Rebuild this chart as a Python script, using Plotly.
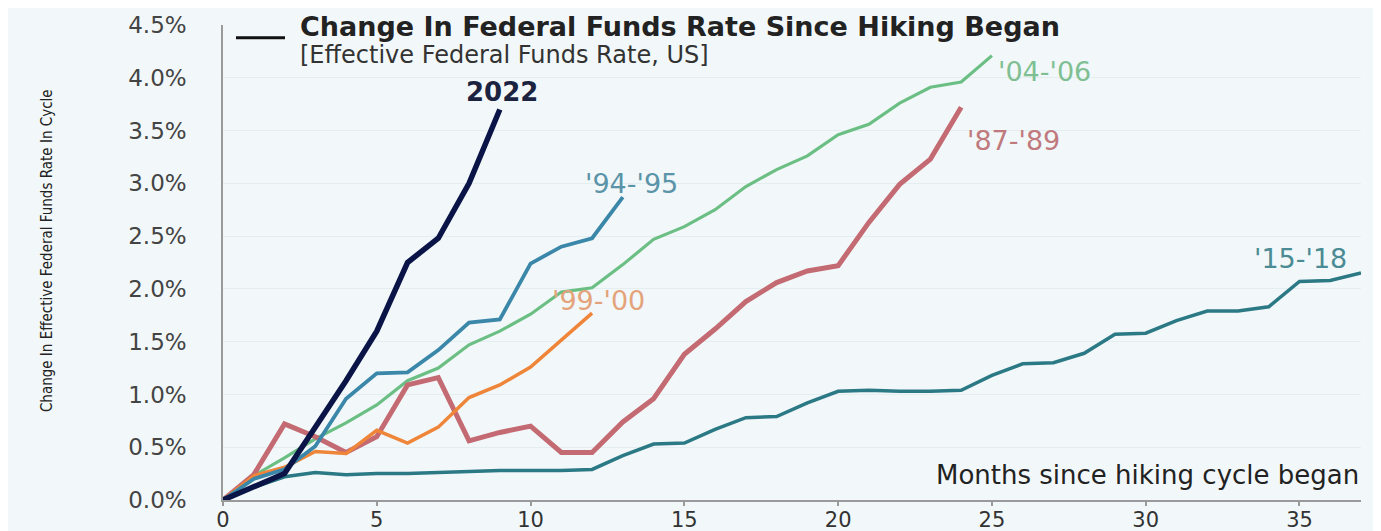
import plotly.graph_objects as go

# ---- data (change in effective fed funds rate, percentage points, by month of cycle) ----
c2022 = [0, 0.12, 0.25, 0.69, 1.13, 1.60, 2.25, 2.48, 3.00, 3.70]
c9495 = [0, 0.20, 0.29, 0.51, 0.96, 1.20, 1.21, 1.42, 1.68, 1.71, 2.24, 2.40, 2.48, 2.87]
c9900 = [0, 0.23, 0.31, 0.46, 0.44, 0.66, 0.54, 0.69, 0.97, 1.09, 1.26, 1.51, 1.77]
c0406 = [0, 0.23, 0.40, 0.58, 0.73, 0.90, 1.13, 1.25, 1.47, 1.60, 1.76, 1.97, 2.01,
         2.23, 2.47, 2.59, 2.75, 2.97, 3.13, 3.26, 3.46, 3.56, 3.76, 3.91, 3.96, 4.21]
c8789 = [0, 0.24, 0.72, 0.60, 0.45, 0.60, 1.09, 1.16, 0.56, 0.64, 0.70, 0.45, 0.45,
         0.74, 0.96, 1.38, 1.62, 1.88, 2.06, 2.17, 2.22, 2.63, 2.99, 3.23, 3.72]
c1518 = [0, 0.12, 0.22, 0.26, 0.24, 0.25, 0.25, 0.26, 0.27, 0.28, 0.28, 0.28, 0.29,
         0.42, 0.53, 0.54, 0.67, 0.78, 0.79, 0.92, 1.03, 1.04, 1.03, 1.03, 1.04, 1.18,
         1.29, 1.30, 1.39, 1.57, 1.58, 1.70, 1.79, 1.79, 1.83, 2.07, 2.08, 2.15]

series_names = ["'15-'18", "'04-'06", "'87-'89", "'99-'00", "'94-'95", "2022"]
series_values = [c1518, c0406, c8789, c9900, c9495, c2022]
line_colors = ["#2c7986", "#6cbf84", "#c46a72", "#ef8539", "#3a87a9", "#0b1446"]
label_colors = ["#4b8b95", "#7fbf93", "#c07a7e", "#e4a37a", "#5b94a8", "#1c2340"]
line_widths = [3.5, 3.2, 5, 3.5, 3.8, 5.5]
# label offsets relative to each series' last point (xanchor, xshift, yshift)
label_pos = [("right", -12, 15), ("left", 4, -16), ("left", 4, -33),
             ("center", 6, 13), ("center", 9, 14), ("center", 2, 17)]

y_ticks = [0, 0.5, 1.0, 1.5, 2.0, 2.5, 3.0, 3.5, 4.0, 4.5]
y_ticklabels = ["0.0%", "0.5%", "1.0%", "1.5%", "2.0%", "2.5%", "3.0%", "3.5%", "4.0%", "4.5%"]
x_ticks = [0, 5, 10, 15, 20, 25, 30, 35]

BG = "#f2f8f9"
FONT = "DejaVu Sans"

fig = go.Figure()
annotations = []
for name, vals, lc, tc, lw, (xa, xs, ys) in zip(series_names, series_values, line_colors,
                                                  label_colors, line_widths, label_pos):
    months = list(range(len(vals)))
    fig.add_trace(go.Scatter(x=months, y=vals, mode="lines", name=name,
                             line=dict(color=lc, width=lw), showlegend=False))
    is_bold = name == "2022"
    annotations.append(dict(
        x=months[-1], y=vals[-1], xref="x", yref="y", text=name, showarrow=False,
        xanchor=xa, yanchor="middle", xshift=xs, yshift=ys,
        font=dict(family=FONT, size=26 if is_bold else 27, color=tc,
                  weight="bold" if is_bold else "normal")))

annotations += [
    dict(x=0.066, y=0.997, xref="paper", yref="paper", xanchor="left", yanchor="middle",
         text="Change In Federal Funds Rate Since Hiking Began", showarrow=False,
         font=dict(family=FONT, size=27, color="#222222", weight="bold")),
    dict(x=0.066, y=0.936, xref="paper", yref="paper", xanchor="left", yanchor="middle",
         text="[Effective Federal Funds Rate, US]", showarrow=False,
         font=dict(family=FONT, size=24, color="#333333")),
    dict(x=1.0, y=0.052, xref="paper", yref="paper", xanchor="right", yanchor="middle",
         text="Months since hiking cycle began", showarrow=False,
         font=dict(family=FONT, size=26, color="#222222")),
    dict(x=-0.1547, y=0.526, xref="paper", yref="paper", xanchor="center", yanchor="middle",
         text="Change In Effective Federal Funds Rate In Cycle", showarrow=False,
         textangle=-90,
         font=dict(family="Liberation Sans Narrow, DejaVu Sans Condensed, Roboto",
                   size=15, color="#222222")),
]

fig.add_shape(type="line", xref="paper", yref="paper", x0=0.0114, x1=0.0545,
              y0=0.973, y1=0.973, line=dict(color="#111111", width=3))

# page body adds an 8px offset, so the figure is sized/margined to compensate
fig.update_layout(
    width=1373, height=523,
    margin=dict(l=215, r=20, t=17, b=31, autoexpand=False),
    paper_bgcolor=BG, plot_bgcolor=BG,
    annotations=annotations,
    xaxis=dict(range=[0, 37], tickvals=x_ticks, showgrid=False, zeroline=False,
               showline=True, linecolor="#9a9a9a", linewidth=1.5,
               ticks="outside", ticklen=4, tickcolor="#9a9a9a", tickwidth=1.5,
               ticklabelstandoff=-4,
               tickfont=dict(family=FONT, size=21, color="#333333")),
    yaxis=dict(range=[0, 4.5], tickvals=y_ticks, ticktext=y_ticklabels,
               showgrid=True, gridcolor="#e4edf0", gridwidth=1, zeroline=False,
               showline=True, linecolor="#9a9a9a", linewidth=1.5,
               ticks="", ticklabelstandoff=30,
               tickfont=dict(family=FONT, size=23, color="#444444")),
)

fig.write_html("out.html")
